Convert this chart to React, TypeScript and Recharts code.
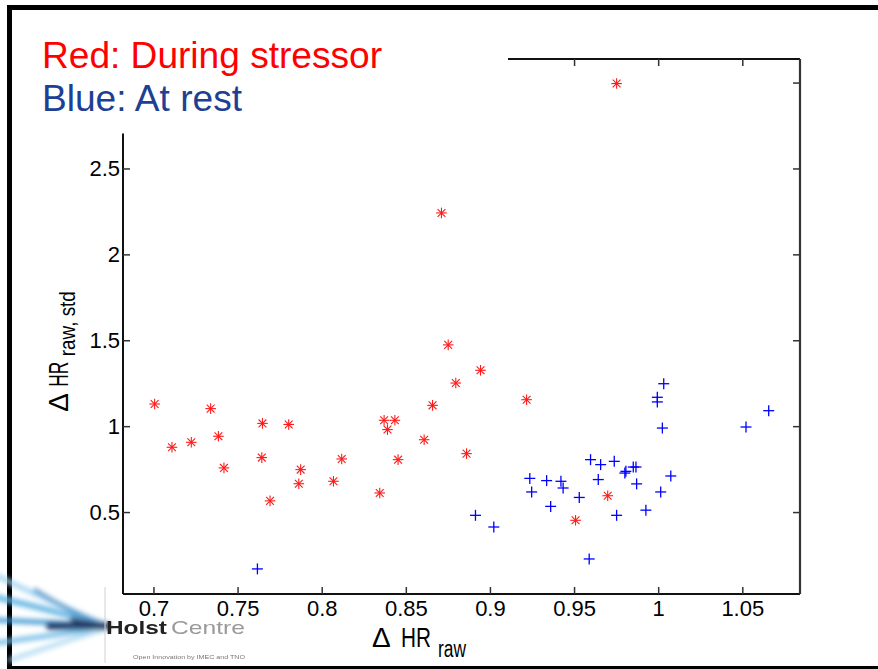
import React from "react";
import { ScatterChart, Scatter, XAxis, YAxis } from "recharts";

// ---- data ----
const stressX = [0.7004, 0.7107, 0.7222, 0.7337, 0.7383, 0.7416, 0.7645, 0.7641, 0.769, 0.7801,
  0.7872, 0.7861, 0.8067, 0.8116, 0.8342, 0.8368, 0.8432, 0.8388, 0.8451, 0.8606,
  0.8656, 0.8709, 0.8749, 0.8794, 0.8858, 0.8941, 0.9215, 0.9506, 0.9697, 0.975];
const stressY = [1.132, 0.88, 0.909, 1.105, 0.944, 0.76, 1.019, 0.82, 0.568, 1.013,
  0.75, 0.668, 0.682, 0.812, 0.614, 1.037, 1.037, 0.983, 0.808, 0.924,
  1.124, 2.244, 1.476, 1.254, 0.843, 1.328, 1.157, 0.455, 0.598, 2.997];

const restX = [0.7615, 0.8911, 0.902, 0.9234, 0.9245, 0.9334, 0.9358, 0.9419, 0.9432, 0.9528,
  0.9595, 0.9587, 0.9655, 0.9641, 0.9736, 0.975, 0.9799, 0.9805, 0.9849, 0.9865,
  0.9869, 0.9924, 0.9992, 0.9992, 1.003, 1.0022, 1.0012, 1.0072, 1.0519, 1.0654];
const restY = [0.172, 0.484, 0.416, 0.699, 0.62, 0.686, 0.536, 0.682, 0.643, 0.588,
  0.808, 0.23, 0.779, 0.692, 0.798, 0.484, 0.73, 0.74, 0.765, 0.765,
  0.667, 0.514, 1.171, 1.144, 1.25, 0.992, 0.62, 0.713, 0.998, 1.093];

const xTicks = [0.7, 0.75, 0.8, 0.85, 0.9, 0.95, 1, 1.05];
const yTicks = [0.5, 1, 1.5, 2, 2.5, 3];
const xDomain: [number, number] = [0.6816, 1.084];
const yDomain: [number, number] = [0.026, 3.14];

const titleLines = ["Red: During stressor", "Blue: At rest"];

const stressData = stressX.map((x, i) => ({ x, y: stressY[i] }));
const restData = restX.map((x, i) => ({ x, y: restY[i] }));

const FONT = "'Liberation Sans', Arial, Helvetica, sans-serif";
const TICK_LEN = 7;
const AXIS_STROKE = "#111";
const TITLE_BOX_BOTTOM = 133.5;

const fmt = (v: number) => String(v);

const BottomTick = (p: any) => {
  const { x, y, payload } = p;
  return (
    <g>
      <line x1={x} x2={x} y1={y} y2={y - TICK_LEN} stroke="#333" strokeWidth={1.5} />
      <text x={x} y={y + 22} textAnchor="middle" fontSize={22} fontFamily={FONT} fill="#000">
        {fmt(payload.value)}
      </text>
    </g>
  );
};
const TopTick = (p: any) => {
  const { x, y } = p;
  return <line x1={x} x2={x} y1={y} y2={y + TICK_LEN} stroke="#333" strokeWidth={1.5} />;
};
const LeftTick = (p: any) => {
  const { x, y, payload } = p;
  // labels above the title box edge are hidden by the slide's text box
  const hidden = y < TITLE_BOX_BOTTOM;
  return (
    <g>
      <line x1={x} x2={x + TICK_LEN} y1={y} y2={y} stroke="#333" strokeWidth={1.5} />
      {hidden ? null : (
        <text x={x - 3} y={y + 7} textAnchor="end" fontSize={22} fontFamily={FONT} fill="#000">
          {fmt(payload.value)}
        </text>
      )}
    </g>
  );
};
const RightTick = (p: any) => {
  const { x, y } = p;
  return <line x1={x} x2={x - TICK_LEN} y1={y} y2={y} stroke="#333" strokeWidth={1.5} />;
};

const StarMarker = (p: any) => {
  const { cx, cy } = p;
  const r = 5.3;
  const d = 3.9;
  return (
    <g stroke="#ff1a1a" strokeWidth={1.1} fill="none">
      <line x1={cx - r} x2={cx + r} y1={cy} y2={cy} />
      <line x1={cx} x2={cx} y1={cy - r} y2={cy + r} />
      <line x1={cx - d} x2={cx + d} y1={cy - d} y2={cy + d} />
      <line x1={cx - d} x2={cx + d} y1={cy + d} y2={cy - d} />
    </g>
  );
};
const PlusMarker = (p: any) => {
  const { cx, cy } = p;
  const r = 5.5;
  return (
    <g stroke="#0000ff" strokeWidth={1.3} fill="none">
      <line x1={cx - r} x2={cx + r} y1={cy} y2={cy} />
      <line x1={cx} x2={cx} y1={cy - r} y2={cy + r} />
    </g>
  );
};

export default function App() {
  return (
    <div style={{ position: "absolute", left: 0, top: 0, width: 878, height: 669, background: "#fff", overflow: "hidden" }}>
      {/* slide frame */}
      <svg width={878} height={669} style={{ position: "absolute", left: 0, top: 0 }}>
        <rect x={7} y={5} width={871} height={5} fill="#000" />
        <rect x={7} y={5} width={5} height={664} fill="#000" />
        <rect x={7} y={666} width={871} height={3} fill="#000" />
      </svg>

      <div style={{ position: "absolute", left: 0, top: 0 }}>
        <ScatterChart width={878} height={669} margin={{ top: 58, right: 77, bottom: 0, left: 0 }}>
          <XAxis xAxisId="b" type="number" dataKey="x" domain={xDomain} allowDataOverflow ticks={xTicks}
            orientation="bottom" height={75} tickSize={0} tickMargin={0} tickLine={false}
            axisLine={{ stroke: AXIS_STROKE, strokeWidth: 1.8 }} tick={<BottomTick />} interval={0} />
          <XAxis xAxisId="t" type="number" dataKey="x" domain={xDomain} allowDataOverflow ticks={xTicks}
            orientation="top" height={1} tickSize={0} tickMargin={0} tickLine={false}
            axisLine={{ stroke: AXIS_STROKE, strokeWidth: 1.8 }} tick={<TopTick />} interval={0} />
          <YAxis yAxisId="l" type="number" dataKey="y" domain={yDomain} allowDataOverflow ticks={yTicks}
            orientation="left" width={123} tickSize={0} tickMargin={0} tickLine={false}
            axisLine={{ stroke: AXIS_STROKE, strokeWidth: 2 }} tick={<LeftTick />} interval={0} />
          <YAxis yAxisId="r" type="number" dataKey="y" domain={yDomain} allowDataOverflow ticks={yTicks}
            orientation="right" width={1} tickSize={0} tickMargin={0} tickLine={false}
            axisLine={{ stroke: "#333", strokeWidth: 2.2 }} tick={<RightTick />} interval={0} />
          <Scatter name="During stressor" data={stressData} xAxisId="b" yAxisId="l"
            shape={<StarMarker />} isAnimationActive={false} />
          <Scatter name="At rest" data={restData} xAxisId="t" yAxisId="r"
            shape={<PlusMarker />} isAnimationActive={false} />
        </ScatterChart>
      </div>

      {/* overlay: title box, axis labels, logo */}
      <svg width={878} height={669} style={{ position: "absolute", left: 0, top: 0, pointerEvents: "none" }}>
        <defs>
          <filter id="blur2" x="-20%" y="-50%" width="140%" height="200%">
            <feGaussianBlur stdDeviation="2.6" />
          </filter>
          <filter id="blur1">
            <feGaussianBlur stdDeviation="0.6" />
          </filter>
        </defs>
        <rect x={12} y={10} width={496} height={TITLE_BOX_BOTTOM - 10} fill="#fff" />
        <text x={42} y={68} fontSize={36} fontFamily={FONT} fill="#ff0000" textLength={340} lengthAdjust="spacingAndGlyphs">
          {titleLines[0]}
        </text>
        <text x={42} y={111} fontSize={36} fontFamily={FONT} fill="#1d3f94" textLength={200} lengthAdjust="spacingAndGlyphs">
          {titleLines[1]}
        </text>

        {/* x axis label */}
        <text x={372} y={647} fontSize={28} fontFamily={FONT} fill="#000">Δ</text>
        <text x={401} y={647} fontSize={28} fontFamily={FONT} fill="#000" textLength={30} lengthAdjust="spacingAndGlyphs">HR</text>
        <text x={438} y={656.5} fontSize={23} fontFamily={FONT} fill="#000" textLength={28} lengthAdjust="spacingAndGlyphs">raw</text>

        {/* y axis label */}
        <g transform="translate(68.3, 411.7) rotate(-90)">
          <text x={0} y={0} fontSize={28} fontFamily={FONT} fill="#000">Δ</text>
          <text x={25} y={0} fontSize={28} fontFamily={FONT} fill="#000" textLength={25} lengthAdjust="spacingAndGlyphs">HR</text>
          <text x={55.5} y={6.7} fontSize={22} fontFamily={FONT} fill="#000" textLength={65} lengthAdjust="spacingAndGlyphs">raw, std</text>
        </g>

        {/* Holst Centre logo (approximation) */}
        <g filter="url(#blur2)" fill="none" strokeLinecap="round" opacity={0.9}>
          <path d="M -5 575 Q 50 602 104 624" stroke="#9fd3f0" strokeWidth={5} />
          <path d="M -5 597 Q 55 611 104 625" stroke="#5fb2e2" strokeWidth={6} />
          <path d="M -5 620 Q 50 622 104 626" stroke="#3b95d0" strokeWidth={5} />
          <path d="M -5 643 Q 55 635 104 628" stroke="#6fbbe6" strokeWidth={5} />
          <path d="M 10 660 Q 60 643 104 629" stroke="#a8d7f1" strokeWidth={4} />
          <path d="M 35 590 Q 70 612 104 625" stroke="#2f80bf" strokeWidth={3.5} />
          <path d="M 50 626 L 106 626" stroke="#0b2b5e" strokeWidth={8} />
          <path d="M 72 619 Q 90 624 106 625" stroke="#0a2450" strokeWidth={4} />
        </g>
        <line x1={105} x2={105} y1={587} y2={663} stroke="#d0d0d0" strokeWidth={1} />
        <g filter="url(#blur1)">
          <text x={106} y={634} fontSize={19} fontWeight="bold" fontFamily={FONT} fill="#222" textLength={61} lengthAdjust="spacingAndGlyphs">Holst</text>
          <text x={171} y={634} fontSize={19} fontFamily={FONT} fill="#9a9a9a" textLength={74} lengthAdjust="spacingAndGlyphs">Centre</text>
          <text x={133} y={659} fontSize={5.5} fontFamily={FONT} fill="#777" textLength={112} lengthAdjust="spacingAndGlyphs">Open Innovation by IMEC and TNO</text>
        </g>
      </svg>
    </div>
  );
}
